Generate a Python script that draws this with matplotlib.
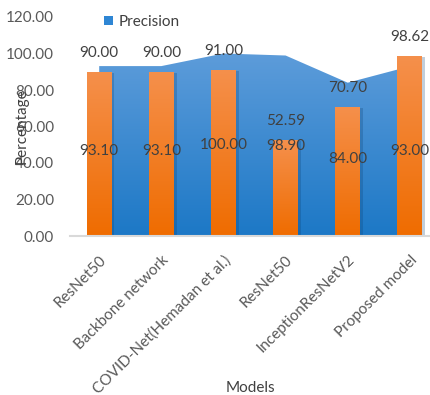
import numpy as np
import matplotlib
matplotlib.use("Agg")
import matplotlib.pyplot as plt
from matplotlib.patches import Patch
from matplotlib import patheffects as pe
from matplotlib.colors import LinearSegmentedColormap

models = ["ResNet50", "Backbone network", "COVID-Net(Hemadan et al.)",
          "ResNet50", "InceptionResNetV2", "Proposed model"]
precision = [93.10, 93.10, 100.00, 98.90, 84.00, 93.00]
accuracy = [90.00, 90.00, 91.00, 52.59, 70.70, 98.62]
yticks = [0, 20, 40, 60, 80, 100, 120]

plt.rcParams["font.family"] = ["Lato", "DejaVu Sans"]
text_col = "#404040"
tick_col = "#595959"
fs = 11

blue_cmap = LinearSegmentedColormap.from_list("blue", ["#5D9CDA", "#1C78C6"])
orange_cmap = LinearSegmentedColormap.from_list("orange", ["#F5904C", "#EF6C00"])
grad = np.linspace(0, 1, 256).reshape(-1, 1)

fig = plt.figure(figsize=(4.31, 3.95), dpi=100)
ax = fig.add_axes([70 / 431, 1 - 236 / 395, 361 / 431, 219 / 395])
x = np.arange(len(models))

# area series with vertical gradient
area = ax.fill_between(x, 0, precision, facecolor="none", edgecolor="none", zorder=1)
img = ax.imshow(grad, cmap=blue_cmap, aspect="auto", zorder=1,
                extent=[x[0], x[-1], 0, max(precision)], origin="upper")
img.set_clip_path(area.get_paths()[0], transform=ax.transData)
ax.set_xlim(-0.47, 5.34)
ax.set_ylim(0, 120)

# bars with soft shadow and gradient
bars = ax.bar(x, accuracy, width=0.4, color="#EF6C00", zorder=3,
              path_effects=[pe.SimplePatchShadow(offset=(2, -1), shadow_rgbFace="#0b3f70",
                                                 alpha=0.25), pe.Normal()])
for b in bars:
    bx, bw, bh = b.get_x(), b.get_width(), b.get_height()
    im = ax.imshow(grad, cmap=orange_cmap, aspect="auto", zorder=4,
                   extent=[bx, bx + bw, 0, bh], origin="upper")
    im.set_clip_path(b)
    ax.text(bx + bw / 2, bh + 6.5, f"{bh:.2f}", ha="center", va="bottom",
            fontsize=fs, color=text_col, zorder=6)

for xi, v in zip(x, precision):
    ax.text(xi, v / 2, f"{v:.2f}", ha="center", va="center",
            fontsize=fs, color=text_col, zorder=6)

ax.set_yticks(yticks)
ax.set_yticklabels([f"{t:.2f}" for t in yticks], fontsize=fs, color=tick_col)
ax.set_xticks(x)
ax.set_xticklabels(models, rotation=45, ha="right", va="top",
                   rotation_mode="anchor", fontsize=fs, color=tick_col)
ax.tick_params(axis="both", length=0)
ax.tick_params(axis="x", pad=12)
ax.tick_params(axis="y", pad=11.5)
for s in ["top", "right", "left"]:
    ax.spines[s].set_visible(False)
ax.spines["bottom"].set_color("#D9D9D9")
ax.spines["bottom"].set_linewidth(1.5)
ax.spines["bottom"].set_zorder(7)

ax.set_ylabel("Percentage", fontsize=fs, color=text_col)
ax.yaxis.set_label_coords(-0.115, 0.5)
ax.set_xlabel("Models", fontsize=fs, color=text_col)
ax.xaxis.set_label_coords(0.5, -0.66)

handle = Patch(facecolor="#2E86D4", edgecolor="none")
fig.legend([handle], ["Precision"], loc="center", bbox_to_anchor=(142 / 431, 1 - 22 / 395),
           frameon=False, fontsize=fs, handlelength=0.6, handleheight=0.6,
           handletextpad=0.4, labelcolor=text_col)

fig.savefig("out.png", dpi=100)
